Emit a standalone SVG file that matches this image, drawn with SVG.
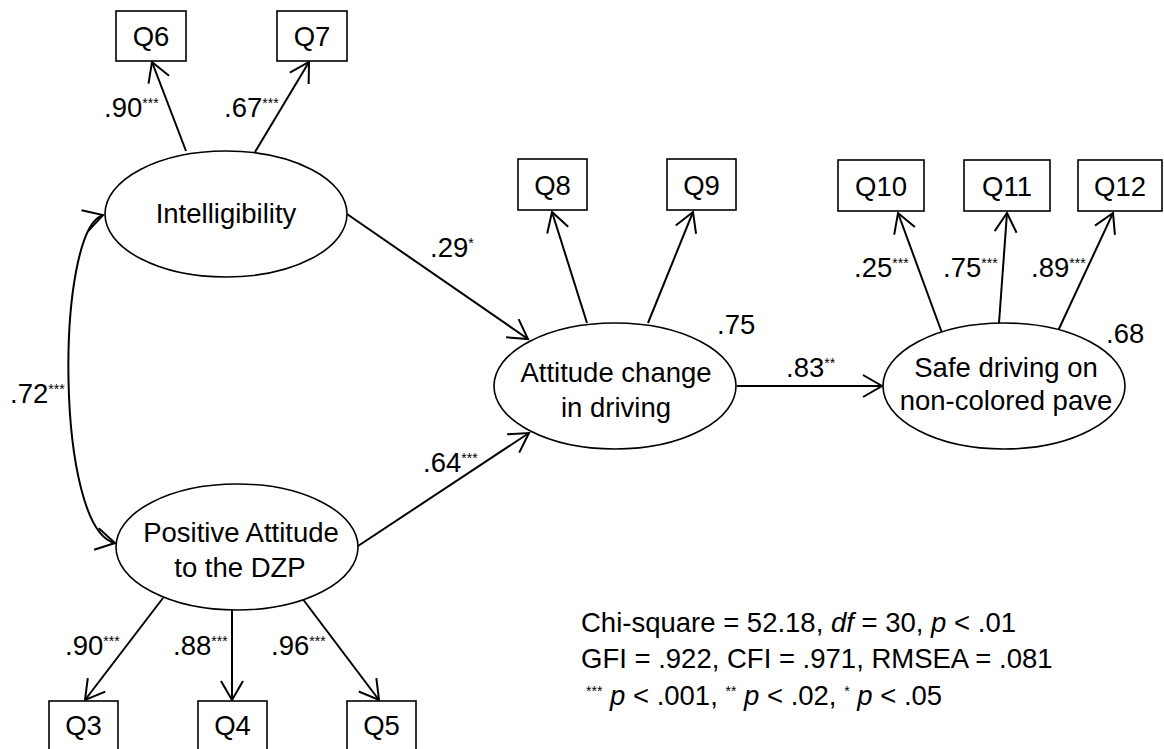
<svg xmlns="http://www.w3.org/2000/svg" width="1164" height="749" viewBox="0 0 1164 749">
<style>
text{font-family:"Liberation Sans",Arial,sans-serif;font-size:27.5px;fill:#000}
.c{text-anchor:middle}
.box{fill:#fff;stroke:#000;stroke-width:1.6}
.lat{fill:#fff;stroke:#000;stroke-width:1.6}
.con{fill:none;stroke:#000;stroke-width:2;marker-end:url(#ah)}
.sup{font-size:14px}
.it{font-style:italic}
</style>
<defs>
<marker id="ah" markerUnits="userSpaceOnUse" viewBox="-25 -15 30 30" markerWidth="30" markerHeight="30" refX="0" refY="0" orient="auto-start-reverse">
<path d="M-19,-11 L0,0 L-19,11" fill="none" stroke="#000" stroke-width="2"/>
</marker>
</defs>
<rect width="1164" height="749" fill="#fff"/>
<g id="connectors">
<line class="con" x1="186" y1="151" x2="152" y2="62"/>
<line class="con" x1="255" y1="152" x2="309" y2="62"/>
<line class="con" x1="347" y1="214" x2="528" y2="339"/>
<line class="con" x1="358" y1="546" x2="529" y2="433"/>
<line class="con" x1="587" y1="323" x2="552" y2="212"/>
<line class="con" x1="648" y1="323" x2="693" y2="212"/>
<line class="con" x1="737" y1="386" x2="882" y2="386"/>
<line class="con" x1="942" y1="333" x2="898" y2="213"/>
<line class="con" x1="999" y1="323" x2="1007" y2="213"/>
<line class="con" x1="1057" y1="333" x2="1113" y2="213"/>
<line class="con" x1="163" y1="598" x2="85" y2="700"/>
<line class="con" x1="232" y1="610" x2="232" y2="700"/>
<line class="con" x1="302" y1="598" x2="379" y2="700"/>
<path class="con" d="M103,215 C55,230 55,530 115,543" marker-start="url(#ah)"/>
</g>
<g id="labels">
<text x="104" y="117">.90<tspan class="sup" dy="-9">***</tspan></text>
<text x="224" y="117">.67<tspan class="sup" dy="-9">***</tspan></text>
<text x="430" y="257">.29<tspan class="sup" dy="-9">*</tspan></text>
<text x="717" y="334">.75</text>
<text x="786" y="377">.83<tspan class="sup" dy="-9">**</tspan></text>
<text x="854" y="277">.25<tspan class="sup" dy="-9">***</tspan></text>
<text x="943" y="277">.75<tspan class="sup" dy="-9">***</tspan></text>
<text x="1031" y="277">.89<tspan class="sup" dy="-9">***</tspan></text>
<text x="1106" y="343">.68</text>
<text x="10" y="403">.72<tspan class="sup" dy="-9">***</tspan></text>
<text x="423" y="472">.64<tspan class="sup" dy="-9">***</tspan></text>
<text x="65" y="655">.90<tspan class="sup" dy="-9">***</tspan></text>
<text x="173" y="655">.88<tspan class="sup" dy="-9">***</tspan></text>
<text x="271" y="655">.96<tspan class="sup" dy="-9">***</tspan></text>
</g>
<g id="Q6"><rect class="box" x="116" y="11" width="70" height="50"/><text class="c" x="151" y="46">Q6</text></g>
<g id="Q7"><rect class="box" x="277" y="11" width="70" height="50"/><text class="c" x="312" y="46">Q7</text></g>
<g id="Q8"><rect class="box" x="518" y="159" width="69" height="51"/><text class="c" x="552.5" y="195">Q8</text></g>
<g id="Q9"><rect class="box" x="667" y="159" width="69" height="51"/><text class="c" x="701.5" y="195">Q9</text></g>
<g id="Q10"><rect class="box" x="838" y="160" width="86" height="51"/><text class="c" x="881" y="196">Q10</text></g>
<g id="Q11"><rect class="box" x="964" y="160" width="86" height="51"/><text class="c" x="1007" y="196">Q11</text></g>
<g id="Q12"><rect class="box" x="1078" y="160" width="84" height="51"/><text class="c" x="1120" y="196">Q12</text></g>
<g id="Q3"><rect class="box" x="49" y="701" width="69" height="50"/><text class="c" x="83.5" y="735">Q3</text></g>
<g id="Q4"><rect class="box" x="198" y="701" width="69" height="50"/><text class="c" x="232.5" y="735">Q4</text></g>
<g id="Q5"><rect class="box" x="347" y="701" width="69" height="50"/><text class="c" x="381.5" y="735">Q5</text></g>
<g id="intelligibility"><ellipse class="lat" cx="226" cy="214" rx="121" ry="63"/><text class="c" x="226" y="223">Intelligibility</text></g>
<g id="positive-attitude"><ellipse class="lat" cx="237" cy="547" rx="121" ry="63"/><text class="c" x="241" y="542">Positive Attitude</text><text class="c" x="240" y="577">to the DZP</text></g>
<g id="attitude-change"><ellipse class="lat" cx="615" cy="386" rx="121" ry="63"/><text class="c" x="616" y="382">Attitude change</text><text class="c" x="616" y="417">in driving</text></g>
<g id="safe-driving"><ellipse class="lat" cx="1004" cy="386" rx="121" ry="63"/><text class="c" x="1006" y="377">Safe driving on</text><text class="c" x="1006" y="410">non-colored pave</text></g>
<g id="fit-stats">
<text x="581" y="632">Chi-square = 52.18, <tspan class="it">df</tspan> = 30, <tspan class="it">p</tspan> &lt; .01</text>
<text x="581" y="668">GFI = .922, CFI = .971, RMSEA = .081</text>
<text x="586" y="705"><tspan class="sup" dy="-9">***</tspan><tspan dy="9"> </tspan><tspan class="it">p</tspan> &lt; .001, <tspan class="sup" dy="-9">**</tspan><tspan dy="9"> </tspan><tspan class="it">p</tspan> &lt; .02, <tspan class="sup" dy="-9">*</tspan><tspan dy="9"> </tspan><tspan class="it">p</tspan> &lt; .05</text>
</g>
</svg>
